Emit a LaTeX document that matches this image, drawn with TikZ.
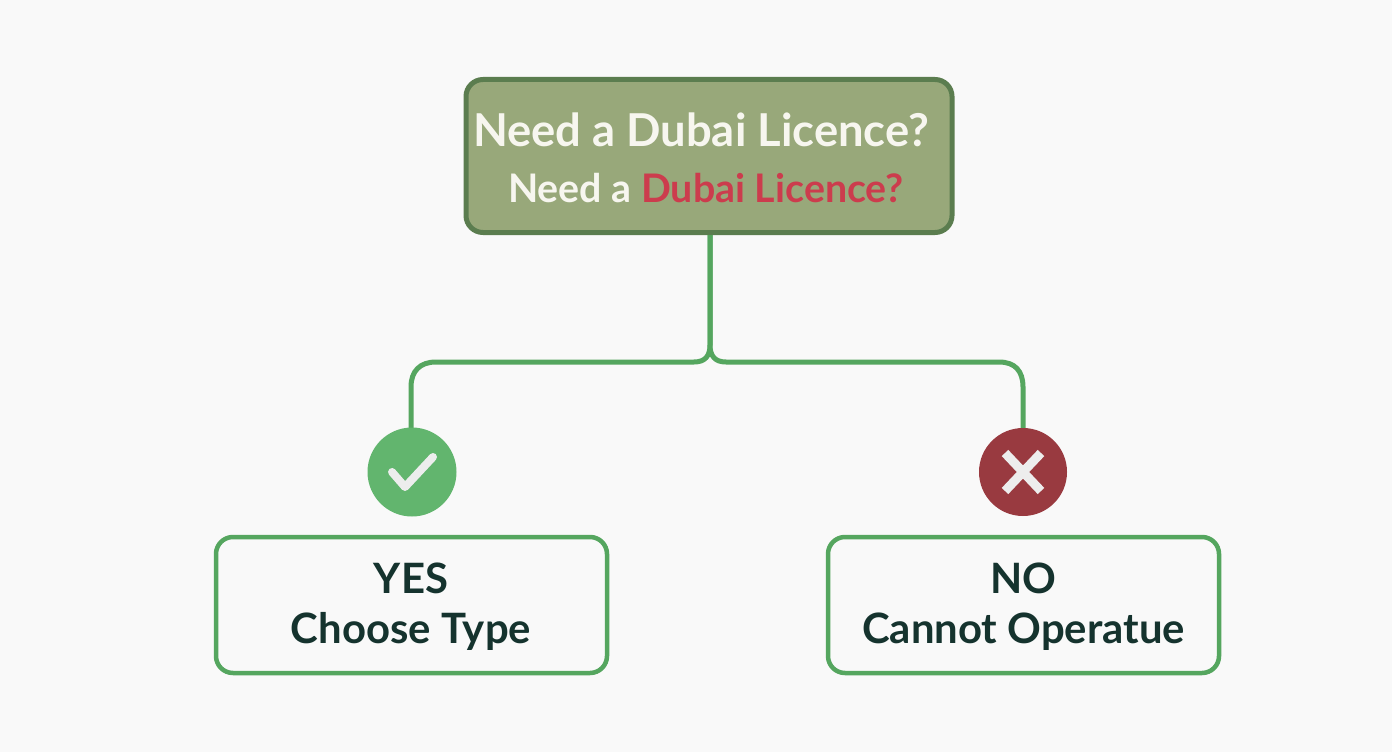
\documentclass[tikz,border=0pt]{standalone}
\usepackage{fontspec}
\setmainfont{Lato}
\usetikzlibrary{calc}
\definecolor{bgc}{HTML}{F9F9F9}
\definecolor{topfill}{HTML}{98A87A}
\definecolor{topline}{HTML}{5B7D4F}
\definecolor{linkc}{HTML}{55A65F}
\definecolor{okc}{HTML}{62B56E}
\definecolor{noc}{HTML}{993A40}
\definecolor{inkc}{HTML}{15332E}
\definecolor{redtxt}{HTML}{CC3C4D}
\definecolor{paper}{HTML}{F7F6EF}
\definecolor{markc}{HTML}{EDEDED}
\tikzset{
  x=1bp,y=-1bp,
  topbox/.style={draw=topline,fill=topfill,line width=5bp,rounded corners=17bp,minimum width=486bp,minimum height=153bp,inner sep=0pt},
  answerbox/.style={draw=linkc,fill=bgc,line width=4.5bp,rounded corners=17bp,minimum width=391bp,minimum height=136bp,inner sep=0pt},
  badgeok/.style={circle,fill=okc,minimum size=89bp,inner sep=0pt},
  badgeno/.style={circle,fill=noc,minimum size=88bp,inner sep=0pt},
  link/.style={draw=linkc,line width=5bp},
  glyphline/.style={draw=markc,line cap=round,line join=round},
  big/.style={font=\fontsize{45.5}{52}\selectfont\bfseries,text=paper,inner sep=0pt},
  small/.style={font=\fontsize{39.5}{46}\selectfont\bfseries,inner sep=0pt},
  anstext/.style={font=\fontsize{42}{50}\selectfont\bfseries,text=inkc,align=center,inner sep=0pt}
}
\begin{document}
\begin{tikzpicture}
\path[use as bounding box,fill=bgc] (0,0) rectangle (1392,752);
\node[topbox] (top) at (709,156) {};
\node[big,anchor=base] (t1) at (701,146) {Need a Dubai Licence?};
\node[small,anchor=base] (t2) at (706,202) {\textcolor{paper}{Need a} \textcolor{redtxt}{Dubai Licence?}};
\coordinate (fork) at (710,362);
\draw[link] (top.south -| fork) -- (710,345) .. controls (710,356) and (705,362) .. (694,362)
  -- (436,362) .. controls (420,362) and (411,371) .. (411,387) -- (411,430);
\draw[link] (top.south -| fork) -- (710,345) .. controls (710,356) and (715,362) .. (726,362)
  -- (999,362) .. controls (1015,362) and (1023,371) .. (1023,387) -- (1023,430);
\node[badgeok] (yesb) at (412,472) {};
\node[badgeno] (nob) at (1023,472) {};
\node[answerbox] (yes) at (411.5,605) {};
\node[answerbox] (no) at (1023.5,605) {};
\node[anstext] (yest) at (411,607) {YES\\Choose Type};
\node[anstext] (not) at (1023.5,607) {NO\\Cannot Operatue};
\draw[glyphline,line width=8bp] ($(yesb)+(-20,0)$) -- ($(yesb)+(-7,15)$) -- ($(yesb)+(21,-15)$);
\draw[glyphline,line width=9bp,line cap=butt] ($(nob)+(-18,-19)$) -- ($(nob)+(18,19)$);
\draw[glyphline,line width=9bp,line cap=butt] ($(nob)+(18,-19)$) -- ($(nob)+(-18,19)$);
\end{tikzpicture}
\end{document}
